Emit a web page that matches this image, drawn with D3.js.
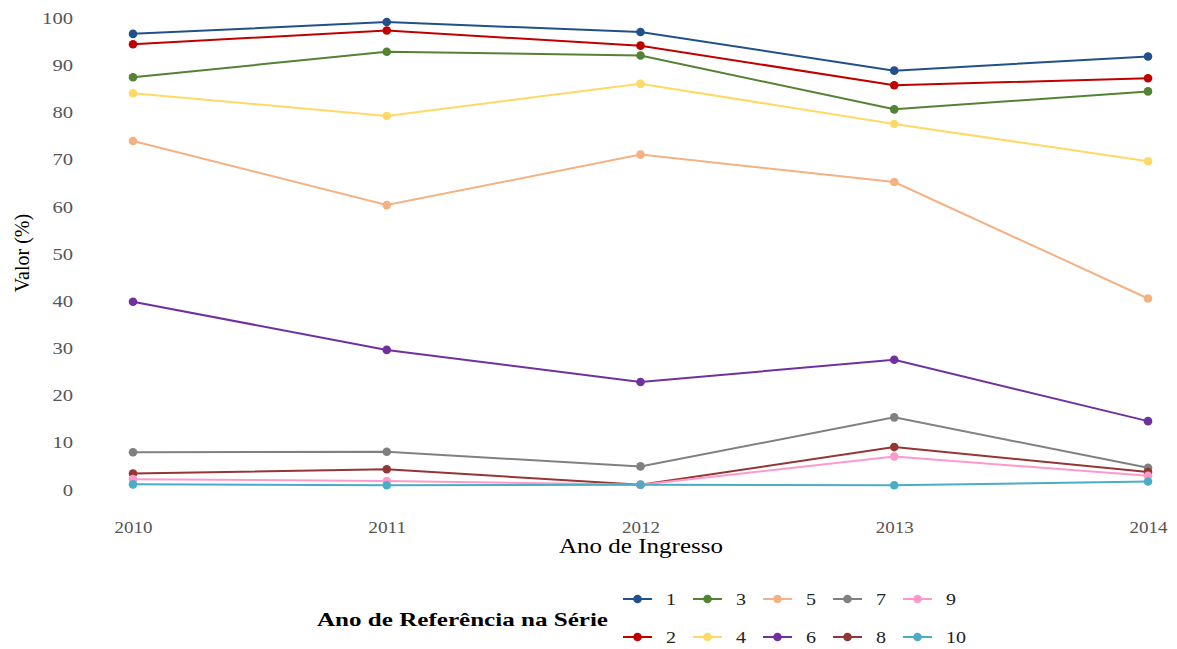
<!DOCTYPE html>
<html><head><meta charset="utf-8">
<script src="https://cdn.jsdelivr.net/npm/d3@7"></script>
<style>body{margin:0;background:#fff}svg{display:block}</style>
</head><body>
<svg id="c" width="1177" height="649"></svg>
<script>
const years = [2010, 2011, 2012, 2013, 2014];
const seriesNames = ["1","2","3","4","5","6","7","8","9","10"];
const s1 = [96.7, 99.2, 97.1, 88.9, 91.9];
const s2 = [94.5, 97.4, 94.2, 85.8, 87.3];
const s3 = [87.5, 92.9, 92.1, 80.7, 84.5];
const s4 = [84.1, 79.3, 86.1, 77.6, 69.7];
const s5 = [74.0, 60.4, 71.1, 65.3, 40.6];
const s6 = [39.9, 29.7, 22.9, 27.6, 14.6];
const s7 = [8.0, 8.1, 5.0, 15.4, 4.7];
const s8 = [3.5, 4.4, 1.1, 9.1, 3.8];
const s9 = [2.3, 1.9, 1.1, 7.1, 3.0];
const s10 = [1.2, 1.0, 1.1, 1.0, 1.8];
const yTicks = [0,10,20,30,40,50,60,70,80,90,100];
const colors = ["#22508a","#c00000","#548235","#ffd966","#f4b183","#7030a0","#808080","#943634","#ff99cc","#4bacc6"];

const FONT = "Liberation Serif";
const allSeries = [s1,s2,s3,s4,s5,s6,s7,s8,s9,s10];
const svg = d3.select("#c");
const x = d3.scalePoint().domain(years).range([133, 1148]);
const y = d3.scaleLinear().domain([0,100]).range([490, 18.3]);

// y axis
const ya = svg.append("g").attr("transform","translate(78,0)")
  .call(d3.axisLeft(y).tickValues(yTicks).tickSize(0).tickPadding(5))
  .attr("font-family", FONT);
ya.select(".domain").remove();
ya.selectAll("text").attr("font-size",16).attr("fill","#555").attr("font-family", FONT)
  .attr("textLength", d => String(d).length*10.3).attr("lengthAdjust","spacingAndGlyphs");

// x axis
const xa = svg.append("g").attr("transform","translate(0,522)")
  .call(d3.axisBottom(x).tickSize(0).tickPadding(0))
  .attr("font-family", FONT);
xa.select(".domain").remove();
xa.selectAll("text").attr("font-size",16).attr("fill","#555").attr("font-family", FONT)
  .attr("textLength",38).attr("lengthAdjust","spacingAndGlyphs");

// titles
svg.append("text").attr("x",641).attr("y",553).attr("text-anchor","middle")
  .attr("font-family", FONT)
  .attr("font-size",20).attr("fill","#000").attr("textLength",164).attr("lengthAdjust","spacingAndGlyphs")
  .text("Ano de Ingresso");
svg.append("text").attr("transform","translate(29,253) rotate(-90)").attr("text-anchor","middle")
  .attr("font-family", FONT)
  .attr("font-size",20).attr("fill","#000")
  .text("Valor (%)");

// lines
const line = d3.line().x((d,i)=>x(years[i])).y(d=>y(d));
const g = svg.append("g");
allSeries.forEach((s,k)=>{
  g.append("path").datum(s).attr("d",line).attr("fill","none")
    .attr("stroke",colors[k]).attr("stroke-width",2);
});
allSeries.forEach((s,k)=>{
  g.selectAll(null).data(s).enter().append("circle")
    .attr("cx",(d,i)=>x(years[i])).attr("cy",d=>y(d)).attr("r",4.3)
    .attr("fill",colors[k]);
});

// legend
svg.append("text").attr("x",317).attr("y",626).attr("font-size",19).attr("font-weight","bold")
  .attr("font-family", FONT)
  .attr("fill","#000").attr("textLength",291).attr("lengthAdjust","spacingAndGlyphs")
  .text("Ano de Referência na Série");
seriesNames.forEach((n,k)=>{
  const col = Math.floor(k/2), row = k%2;
  const lx = 623 + col*70, ly = row===0 ? 599 : 637;
  const lg = svg.append("g");
  lg.append("line").attr("x1",lx).attr("x2",lx+29).attr("y1",ly).attr("y2",ly)
    .attr("stroke",colors[k]).attr("stroke-width",2);
  lg.append("circle").attr("cx",lx+14.5).attr("cy",ly).attr("r",4.3).attr("fill",colors[k]);
  lg.append("text").attr("x",lx+43).attr("y",ly+5.5).attr("font-size",17).attr("fill","#222")
    .attr("font-family", FONT)
    .attr("textLength",n.length*10).attr("lengthAdjust","spacingAndGlyphs").text(n);
});
</script>
</body></html>
